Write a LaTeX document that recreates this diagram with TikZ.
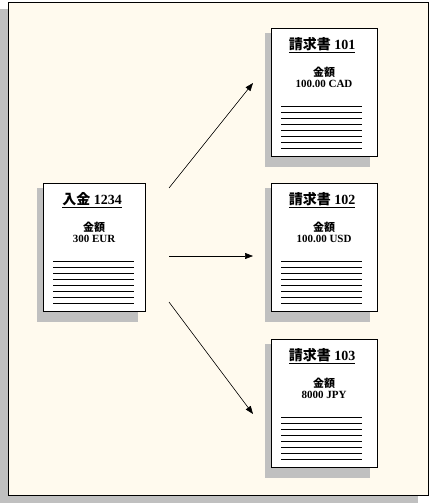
\documentclass[tikz,border=0pt]{standalone}
\usepackage{fontspec}
\setmainfont{Liberation Serif}
\newfontfamily\cjk{Noto Sans CJK JP}
\usetikzlibrary{arrows.meta}
\definecolor{cream}{RGB}{255,250,238}
\definecolor{shadowgray}{RGB}{192,192,192}
\tikzset{
  docbox/.style={draw=black, fill=white, line width=1pt, inner sep=0pt, anchor=north west},
  titletext/.style={inner sep=0pt, font=\fontsize{14}{16}\selectfont\bfseries},
  bodytext/.style={inner sep=0pt, font=\fontsize{11}{13}\selectfont\bfseries},
  rule/.style={line width=0.9pt},
  arr/.style={line width=0.6pt, -{Triangle[length=8pt,width=6pt]}},
}
\newcommand\docpage[6]{%
  % #1 name, #2 left, #3 top, #4 width, #5 title, #6 amount
  \begin{scope}[shift={(#2,#3)}]
    \fill[shadowgray] (-6,5) rectangle (#4-7,139);
    \node[docbox, minimum width=#4pt, minimum height=128pt] (#1) at (0,0) {};
    \node[titletext] (#1t) at (#4/2-2,17) {\underline{#5}};
    \node[bodytext] (#1k) at (#4/2,44) {\cjk 金額};
    \node[bodytext] (#1a) at (#4/2,56) {#6};
    \foreach \i in {0,...,7} \draw[rule] (10,78+\i*6) -- (91,78+\i*6);
  \end{scope}}
\begin{document}
\begin{tikzpicture}[x=1pt,y=-1pt]
  \useasboundingbox (0,0) rectangle (430,503);
  \fill[shadowgray] (0,9) rectangle (418,503);
  \draw[fill=cream, line width=1pt] (8,3) rectangle (428,495);
  \docpage{p0}{43}{183}{102}{{\cjk 入金} 1234}{300 EUR}
  \docpage{p1}{271}{28}{106}{{\cjk 請求書} 101}{100.00 CAD}
  \docpage{p2}{271}{183}{106}{{\cjk 請求書} 102}{100.00 USD}
  \docpage{p3}{271}{339}{106}{{\cjk 請求書} 103}{8000 JPY}
  \coordinate (s1) at (169,188);
  \coordinate (e1) at (253,83);
  \coordinate (s2) at (169,256);
  \coordinate (e2) at (253,256);
  \coordinate (s3) at (169,302);
  \coordinate (e3) at (253,414);
  \draw[arr] (s1) -- (e1);
  \draw[arr] (s2) -- (e2);
  \draw[arr] (s3) -- (e3);
\end{tikzpicture}
\end{document}
